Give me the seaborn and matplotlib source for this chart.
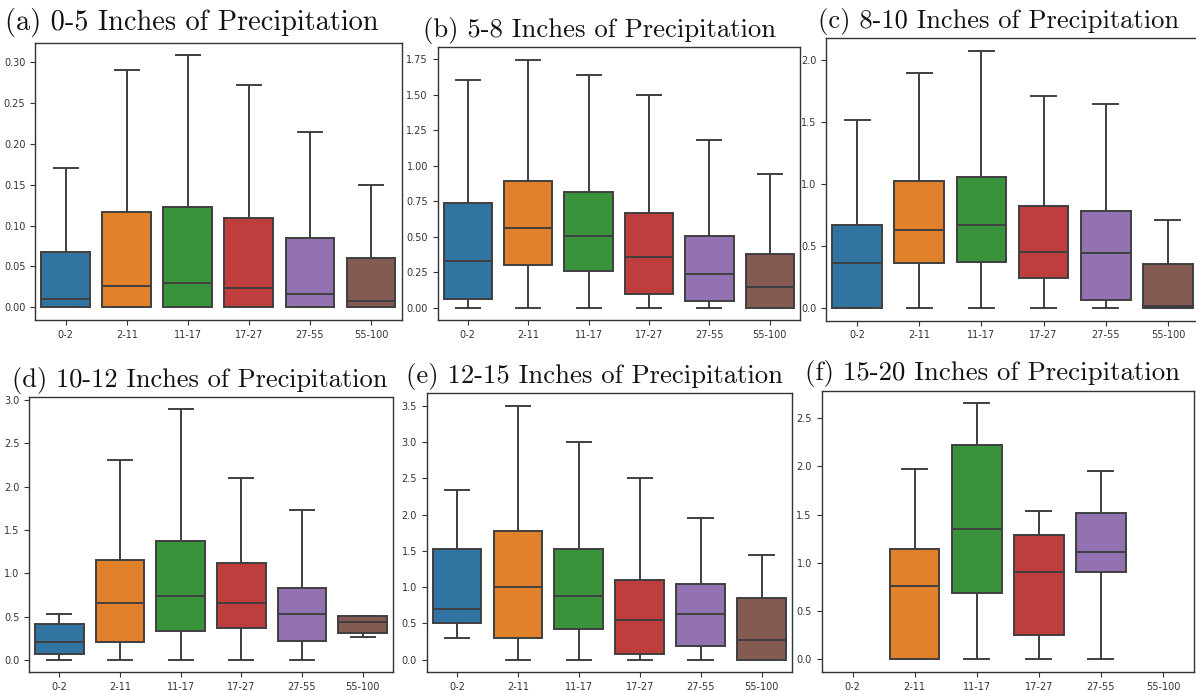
import numpy as np
import pandas as pd
import matplotlib
matplotlib.use("Agg")
import matplotlib.pyplot as plt
from matplotlib.ticker import MultipleLocator
import seaborn as sns

# Age groups on the x axis
groups = ["0-2", "2-11", "11-17", "17-27", "27-55", "55-100"]

titles = [
    "(a) 0-5 Inches of Precipitation",
    "(b) 5-8 Inches of Precipitation",
    "(c) 8-10 Inches of Precipitation",
    "(d) 10-12 Inches of Precipitation",
    "(e) 12-15 Inches of Precipitation",
    "(f) 15-20 Inches of Precipitation",
]

# Five-number summaries per group: whisker low, Q1, median, Q3, whisker high
a_lo  = [0.0,   0.0,   0.0,   0.0,   0.0,   0.0]
a_q1  = [0.0,   0.0,   0.0,   0.0,   0.0,   0.0]
a_med = [0.010, 0.026, 0.030, 0.024, 0.016, 0.008]
a_q3  = [0.068, 0.116, 0.123, 0.109, 0.085, 0.060]
a_hi  = [0.170, 0.290, 0.308, 0.272, 0.214, 0.149]

b_lo  = [0.0,   0.0,   0.0,   0.0,   0.0,   0.0]
b_q1  = [0.058, 0.301, 0.255, 0.096, 0.044, 0.0]
b_med = [0.327, 0.561, 0.502, 0.353, 0.234, 0.142]
b_q3  = [0.736, 0.888, 0.813, 0.663, 0.505, 0.376]
b_hi  = [1.605, 1.745, 1.640, 1.500, 1.180, 0.937]

c_lo  = [0.0,   0.0,   0.0,   0.0,   0.0,   0.0]
c_q1  = [0.0,   0.361, 0.367, 0.238, 0.064, 0.0]
c_med = [0.361, 0.629, 0.667, 0.450, 0.444, 0.012]
c_q3  = [0.667, 1.025, 1.055, 0.824, 0.776, 0.351]
c_hi  = [1.515, 1.890, 2.075, 1.708, 1.646, 0.709]

d_lo  = [0.0,   0.0,   0.0,   0.0,   0.0,   0.258]
d_q1  = [0.062, 0.208, 0.335, 0.366, 0.220, 0.312]
d_med = [0.208, 0.659, 0.740, 0.659, 0.532, 0.436]
d_q3  = [0.416, 1.157, 1.373, 1.114, 0.829, 0.501]
d_hi  = [0.532, 2.310, 2.896, 2.105, 1.735, 0.501]

e_lo  = [0.305, 0.0,   0.0,   0.0,   0.0,   0.0]
e_q1  = [0.504, 0.305, 0.425, 0.074, 0.194, 0.0]
e_med = [0.703, 1.000, 0.874, 0.541, 0.624, 0.273]
e_q3  = [1.521, 1.771, 1.521, 1.100, 1.045, 0.855]
e_hi  = [2.344, 3.500, 3.000, 2.506, 1.951, 1.438]

# No observations for the youngest and oldest groups in the wettest band
f_lo  = [None, 0.0,   0.0,   0.0,   0.0,   None]
f_q1  = [None, 0.0,   0.684, 0.258, 0.908, None]
f_med = [None, 0.760, 1.355, 0.901, 1.118, None]
f_q3  = [None, 1.142, 2.222, 1.286, 1.513, None]
f_hi  = [None, 1.970, 2.651, 1.537, 1.950, None]

panels = [
    (a_lo, a_q1, a_med, a_q3, a_hi),
    (b_lo, b_q1, b_med, b_q3, b_hi),
    (c_lo, c_q1, c_med, c_q3, c_hi),
    (d_lo, d_q1, d_med, d_q3, d_hi),
    (e_lo, e_q1, e_med, e_q3, e_hi),
    (f_lo, f_q1, f_med, f_q3, f_hi),
]

tick_steps = [0.05, 0.25, 0.5, 0.5, 0.5, 0.5]

W, H = 1196, 691
# axes frames in pixels: left, right, top, bottom
frames = [
    (35.2, 401.5, 42.7, 320.0),
    (437.6, 800.0, 47.3, 320.0),
    (826.0, 1199.0, 37.7, 320.5),
    (29.0, 393.0, 396.7, 672.3),
    (426.6, 792.0, 393.3, 672.3),
    (821.5, 1194.0, 390.7, 672.3),
]
# title anchor (centre x, baseline y) in pixels, and font size
title_pos = [
    (191.5, 30.0),
    (600.0, 37.5),
    (998.0, 28.0),
    (199.5, 387.0),
    (595.0, 383.0),
    (992.5, 380.0),
]
title_sizes = [20.4, 19.2, 19.1, 19.05, 19.2, 19.3]

palette = dict(zip(groups, sns.color_palette("tab10", len(groups))))

plt.rcParams.update({
    "axes.edgecolor": "#333333",
    "axes.linewidth": 1.0,
    "xtick.color": "#333333",
    "ytick.color": "#333333",
    "xtick.labelsize": 7.0,
    "ytick.labelsize": 7.0,
    "xtick.major.size": 3.5,
    "ytick.major.size": 3.5,
    "xtick.major.width": 0.8,
    "ytick.major.width": 0.8,
    "font.family": "DejaVu Sans",
})

fig = plt.figure(figsize=(W / 100, H / 100), dpi=100)

for (lo, q1, med, q3, hi), step, (l, r, t, b), title, (tx, ty), fs in zip(
        panels, tick_steps, frames, titles, title_pos, title_sizes):
    rows = []
    for g, s in zip(groups, zip(lo, q1, med, q3, hi)):
        if s[0] is None:
            continue
        for v in s:
            rows.append({"group": g, "value": v})
    df = pd.DataFrame(rows)

    ax = fig.add_axes([l / W, 1 - b / H, (r - l) / W, (b - t) / H])
    sns.boxplot(
        data=df, x="group", y="value", hue="group",
        order=groups, hue_order=groups, palette=palette, legend=False,
        whis=(0, 100), showfliers=False, width=0.8,
        linewidth=1.4, linecolor="#3f3f3f", saturation=0.75, ax=ax,
    )
    ax.set_xlim(-0.5, len(groups) - 0.5)
    ax.yaxis.set_major_locator(MultipleLocator(step))
    ax.set_xlabel("")
    ax.set_ylabel("")
    fig.text(tx / W, 1 - ty / H, title, ha="center", va="baseline",
             family="cmr10", fontsize=fs, color="#111111")

fig.savefig("out.png", dpi=100)
